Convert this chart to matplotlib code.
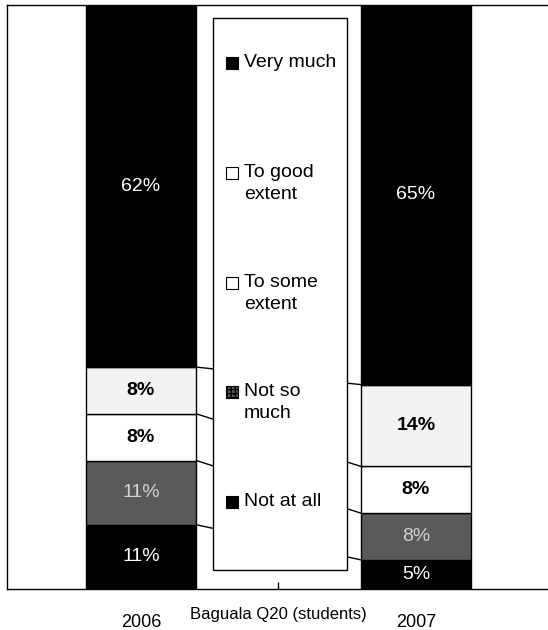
import matplotlib.pyplot as plt
from matplotlib.patches import Rectangle

plt.rcParams['font.family'] = ['Liberation Sans', 'DejaVu Sans']

# data (bottom to top of each stacked bar)
years = ['2006', '2007']
categories = ['Not at all', 'Not so much', 'To some extent', 'To good extent', 'Very much']
legend_labels = ['Not at all', 'Not so\nmuch', 'To some\nextent', 'To good\nextent', 'Very much']
values_2006 = [11, 11, 8, 8, 62]
values_2007 = [5, 8, 8, 14, 65]

fills = ['black', '#5a5a5a', 'white', '#f3f3f3', 'black']
label_colors = ['white', '#d2d2d2', 'black', 'black', 'white']
label_weights = ['normal', 'normal', 'bold', 'bold', 'normal']

fig = plt.figure(figsize=(5.48, 6.3), dpi=100)
ax = fig.add_axes([7 / 548, 41 / 630, 541 / 548, 584 / 630])

x = [0, 1]
width = 0.402
bottoms = [0, 0]
tops_by_series = []
for i, cat in enumerate(categories):
    vals = [values_2006[i], values_2007[i]]
    ax.bar(x, vals, width, bottom=bottoms, color=fills[i], edgecolor='black',
           linewidth=1, zorder=3, label=cat)
    for xi, v, b in zip(x, vals, bottoms):
        ax.text(xi, b + v / 2, f'{v}%', ha='center', va='center',
                color=label_colors[i], fontsize=14, fontweight=label_weights[i], zorder=4)
    bottoms = [b + v for b, v in zip(bottoms, vals)]
    tops_by_series.append(list(bottoms))

# series lines between the bars
for tops in tops_by_series[:-1]:
    ax.plot([x[0] + width / 2, x[1] - width / 2], tops, color='black', lw=1, zorder=2)

ax.set_xlim(-0.487, 1.48)
ax.set_ylim(0, 100)


# legend box drawn by hand (pixel positions of the original)
def to_ax(px, py):
    return (px - 7) / 541, (589 - py) / 584


lx0, ly0 = to_ax(213, 570)
lx1, ly1 = to_ax(347, 18)
ax.add_patch(Rectangle((lx0, ly0), lx1 - lx0, ly1 - ly0, transform=ax.transAxes,
                       facecolor='white', edgecolor='black', lw=1, zorder=5))

entry_y = [502, 392, 283, 173, 63]
hatches = [None, '++++', None, None, None]
for i, lab in enumerate(legend_labels):
    sx, sy = to_ax(226, entry_y[i] + 6)
    ax.add_patch(Rectangle((sx, sy), 12 / 541, 12 / 584, transform=ax.transAxes,
                           facecolor=fills[i] if fills[i] != '#f3f3f3' else 'white',
                           edgecolor='black', lw=0.8, hatch=hatches[i], zorder=6))
    tx, ty = to_ax(244, entry_y[i] - 9)
    ax.text(tx, ty, lab, transform=ax.transAxes, ha='left', va='top',
            fontsize=14, linespacing=1.4, zorder=6)

# axes styling
ax.set_xticks(x, years)
ax.set_xticks([0.5], minor=True)
ax.tick_params(axis='x', which='major', length=0, pad=18, labelsize=13)
ax.tick_params(axis='x', which='minor', direction='in', length=5, width=1)
ax.set_yticks([])
ax.spines['right'].set_visible(False)
for s in ['left', 'top', 'bottom']:
    ax.spines[s].set_linewidth(1)

ax.text(0.5, -0.043, 'Baguala Q20 (students)', transform=ax.get_xaxis_transform(),
        ha='center', va='center', fontsize=12)

fig.savefig('out.png', dpi=100)
